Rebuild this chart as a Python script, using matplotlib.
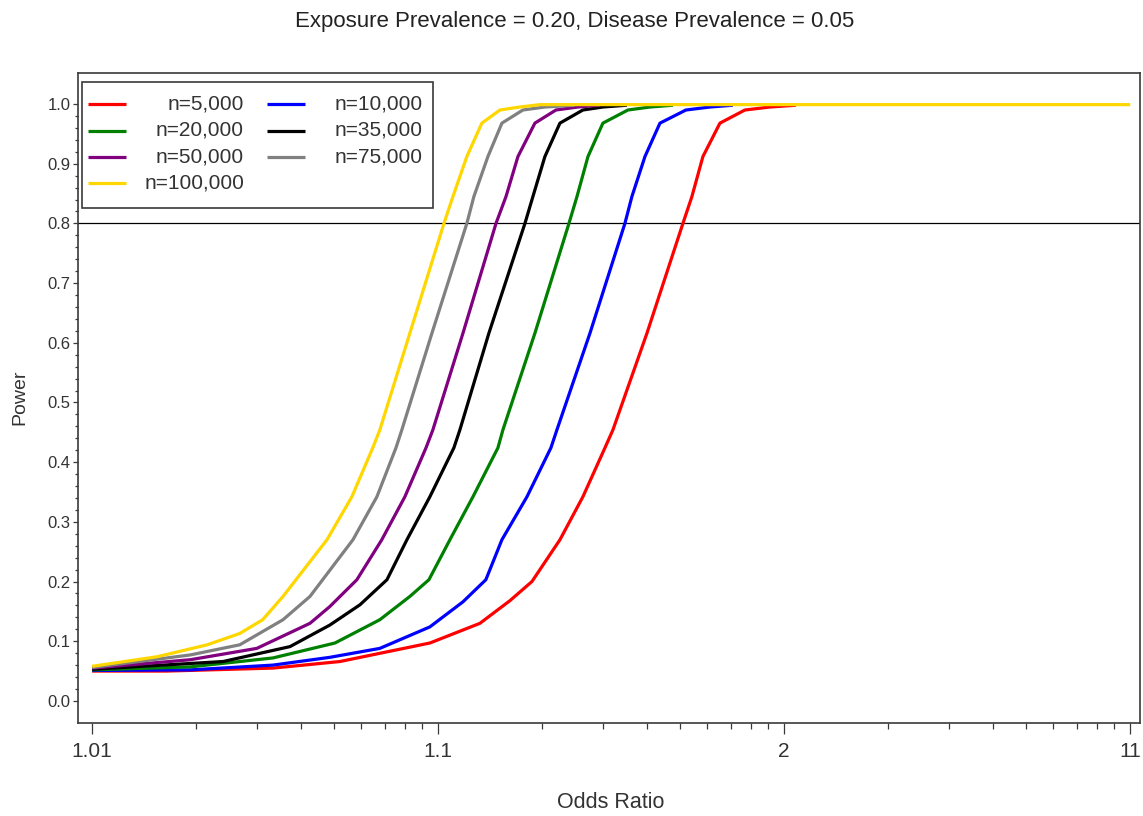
import numpy as np
import matplotlib
matplotlib.use("Agg")
import matplotlib.pyplot as plt
from matplotlib.patches import Rectangle
from matplotlib.lines import Line2D
from matplotlib.ticker import FixedLocator, FixedFormatter

plt.rcParams['font.family'] = ['Liberation Sans', 'DejaVu Sans']

# ---------------- data ----------------
title = "Exposure Prevalence = 0.20, Disease Prevalence = 0.05"
x_label = "Odds Ratio"
y_label = "Power"
x_ticks = [1.01, 1.1, 2, 11]
x_tick_labels = ["1.01", "1.1", "2", "11"]
y_ticks = [0.0, 0.1, 0.2, 0.3, 0.4, 0.5, 0.6, 0.7, 0.8, 0.9, 1.0]
ref_power = 0.8

labels = ["n=5,000", "n=10,000", "n=20,000", "n=35,000", "n=50,000", "n=75,000", "n=100,000"]
colors = ["#FF0000", "#0000FF", "#008000", "#000000", "#800080", "#808080", "#FFD700"]

or_5k = [1.010, 1.0164, 1.0333, 1.0520, 1.0946, 1.1320, 1.1612, 1.1866, 1.2248, 1.2619,
         1.3033, 1.3198, 1.4011, 1.5096, 1.5410, 1.5821, 1.6519, 1.7699, 1.909, 2.081]
pw_5k = [0.050, 0.050, 0.055, 0.066, 0.097, 0.130, 0.168, 0.200, 0.270, 0.342,
         0.424, 0.454, 0.616, 0.800, 0.845, 0.912, 0.968, 0.990, 0.995, 0.998]

or_10k = [1.010, 1.0192, 1.0333, 1.0486, 1.0678, 1.0946, 1.1179, 1.1373, 1.1528, 1.1805,
          1.2117, 1.2203, 1.2745, 1.3464, 1.3629, 1.3958, 1.4374, 1.5199, 1.6100, 1.7108]
pw_10k = [0.051, 0.052, 0.060, 0.073, 0.088, 0.124, 0.166, 0.203, 0.270, 0.342,
          0.424, 0.454, 0.616, 0.800, 0.845, 0.912, 0.968, 0.990, 0.995, 0.998]

or_20k = [1.010, 1.0192, 1.0333, 1.0503, 1.0678, 1.0828, 1.0940, 1.1081, 1.1260, 1.1488,
          1.1538, 1.1903, 1.2387, 1.2518, 1.2709, 1.2992, 1.3534, 1.4092, 1.4770]
pw_20k = [0.052, 0.057, 0.072, 0.097, 0.136, 0.175, 0.203, 0.270, 0.342, 0.424,
          0.454, 0.616, 0.800, 0.845, 0.912, 0.968, 0.990, 0.995, 0.998]

or_35k = [1.010, 1.0239, 1.0373, 1.0486, 1.0594, 1.0711, 1.0812, 1.0946, 1.1110, 1.1155,
          1.1401, 1.1781, 1.1878, 1.2034, 1.2248, 1.2619, 1.2992, 1.3511]
pw_35k = [0.053, 0.066, 0.091, 0.127, 0.161, 0.203, 0.270, 0.342, 0.424, 0.454,
          0.616, 0.800, 0.845, 0.912, 0.968, 0.990, 0.995, 0.998]

or_50k = [1.010, 1.0192, 1.0299, 1.0426, 1.0486, 1.0582, 1.0687, 1.0801, 1.0922, 1.0965,
          1.1179, 1.1469, 1.1570, 1.1700, 1.1903, 1.2189, 1.2533, 1.2933]
pw_50k = [0.055, 0.069, 0.088, 0.130, 0.158, 0.203, 0.270, 0.342, 0.424, 0.454,
          0.616, 0.800, 0.845, 0.912, 0.968, 0.990, 0.995, 0.998]

or_75k = [1.010, 1.0192, 1.0267, 1.0356, 1.0426, 1.0567, 1.0665, 1.0755, 1.0785, 1.0959,
          1.1210, 1.1268, 1.1392, 1.1528, 1.1757, 1.2034, 1.2484]
pw_75k = [0.056, 0.077, 0.094, 0.136, 0.175, 0.270, 0.342, 0.424, 0.454, 0.616,
          0.800, 0.845, 0.912, 0.968, 0.990, 0.995, 0.998]

or_100k = [1.010, 1.0154, 1.0215, 1.0267, 1.0311, 1.0356, 1.0477, 1.0563, 1.0647, 1.0678,
           1.0828, 1.1039, 1.1103, 1.1210, 1.1337, 1.1508, 1.1722, 1.1967, 11.0]
pw_100k = [0.058, 0.074, 0.094, 0.113, 0.136, 0.175, 0.270, 0.342, 0.424, 0.454,
           0.616, 0.800, 0.845, 0.912, 0.968, 0.990, 0.995, 0.999, 0.999]

series_or = [or_5k, or_10k, or_20k, or_35k, or_50k, or_75k, or_100k]
series_pw = [pw_5k, pw_10k, pw_20k, pw_35k, pw_50k, pw_75k, pw_100k]

# ---------------- figure ----------------
W, H = 1143, 816
fig = plt.figure(figsize=(W / 100, H / 100), dpi=100)
fig.patch.set_facecolor("white")

def fx(px):
    return px / W

def fy(py):
    return 1 - py / H

ax_l, ax_r, ax_t, ax_b = 78, 1140, 73, 723
ax = fig.add_axes([fx(ax_l), fy(ax_b), fx(ax_r - ax_l), (ax_b - ax_t) / H])

def fwd(x):
    x = np.asarray(x, dtype=float)
    return np.log10(np.clip(x - 1.0, 1e-12, None))

def inv(y):
    return 1.0 + 10.0 ** np.asarray(y, dtype=float)

ax.set_xscale('function', functions=(fwd, inv))
ax.set_xlim(1.0091, 11.67)
ax.set_ylim(-0.037, 1.052)

ax.axhline(ref_power, color="#000000", lw=0.9, zorder=1.5)

for xs, ys, c in zip(series_or, series_pw, colors):
    ax.plot(xs, ys, color=c, lw=2.3, solid_capstyle='butt', solid_joinstyle='round', zorder=2)

# ticks
ax.xaxis.set_major_locator(FixedLocator(x_ticks))
ax.xaxis.set_major_formatter(FixedFormatter(x_tick_labels))
minor_x = [1 + k * 10.0 ** j for j in (-2, -1, 0) for k in range(2, 10)]
ax.xaxis.set_minor_locator(FixedLocator(minor_x))
ax.xaxis.set_minor_formatter(FixedFormatter([""] * len(minor_x)))

ax.yaxis.set_major_locator(FixedLocator(y_ticks))
ax.yaxis.set_major_formatter(FixedFormatter([f"{v:.1f}" for v in y_ticks]))
minor_y = [round(0.02 * i, 2) for i in range(0, 51) if i % 5 != 0]
ax.yaxis.set_minor_locator(FixedLocator(minor_y))

spine_c = "#3a3a3a"
for s in ax.spines.values():
    s.set_color(spine_c)
    s.set_linewidth(1.2)

ax.tick_params(axis='x', which='major', direction='out', length=8, width=0.9,
               color=spine_c, labelsize=15, pad=6, labelcolor="#333333")
ax.tick_params(axis='x', which='minor', direction='out', length=4, width=0.9, color=spine_c)
ax.tick_params(axis='y', which='major', direction='out', length=3.5, width=0.9,
               color=spine_c, labelsize=12, pad=2, labelcolor="#333333")
ax.tick_params(axis='y', which='minor', direction='out', length=2, width=0.9, color=spine_c)

# texts
fig.text(fx(575), fy(22), title, ha='center', va='center', fontsize=16, color="#222222")
fig.text(fx(611), fy(803), x_label, ha='center', va='center', fontsize=15.5, color="#333333")
fig.text(fx(20), fy(397), y_label, ha='center', va='center', rotation=90, fontsize=14, color="#333333")

# legend (manual, right-aligned labels in two columns)
leg_box = Rectangle((fx(82), fy(208)), fx(433 - 82), (208 - 82) / H,
                    transform=fig.transFigure, facecolor="white", edgecolor=spine_c,
                    lw=1.2, zorder=5)
fig.add_artist(leg_box)
order = [0, 2, 4, 6, 1, 3, 5]
rows_y = [104, 130.5, 157, 183]
col_line = [(88, 126), (267, 305)]
col_text = [244, 423]
for idx, k in enumerate(order):
    col = 0 if idx < 4 else 1
    row = idx if idx < 4 else idx - 4
    y = rows_y[row]
    x0, x1 = col_line[col]
    fig.add_artist(Line2D([fx(x0), fx(x1)], [fy(y), fy(y)], transform=fig.transFigure,
                          color=colors[k], lw=2.3, solid_capstyle='butt', zorder=6))
    fig.text(fx(col_text[col]), fy(y), labels[k], ha='right', va='center',
             fontsize=15, color="#333333", zorder=6)

fig.savefig("out.png", dpi=100, facecolor="white")
